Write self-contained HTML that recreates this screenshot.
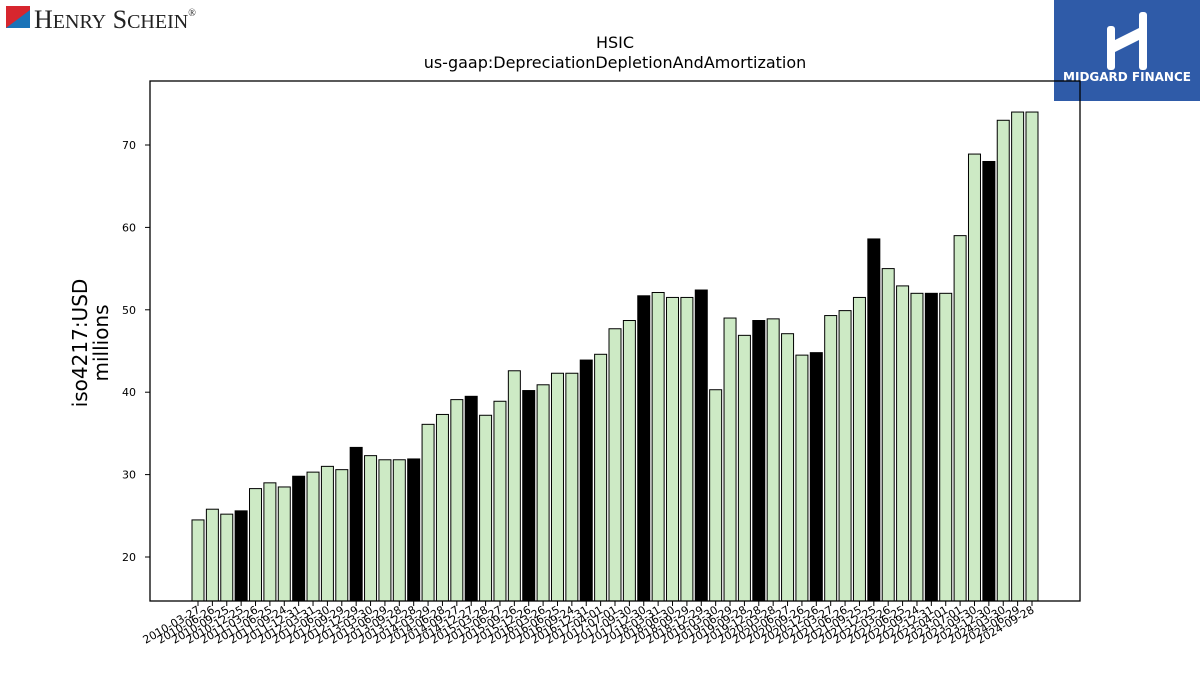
<!DOCTYPE html>
<html><head><meta charset="utf-8"><style>
body{margin:0;background:#fff;width:1200px;height:675px;overflow:hidden;font-family:"Liberation Sans","DejaVu Sans",sans-serif}
</style></head><body>
<svg id="chart" width="1200" height="675" xmlns="http://www.w3.org/2000/svg" font-family="DejaVu Sans, Liberation Sans, sans-serif">
<g>
<rect x="6" y="6" width="24" height="22" fill="#d7262e"/>
<polygon points="6,28 30,10 30,28" fill="#1a73b8"/>
<text x="34" y="28" font-family="Liberation Serif, serif" font-size="26" fill="#222">H<tspan font-size="20">ENRY</tspan> S<tspan font-size="20">CHEIN</tspan><tspan font-size="10" dy="-12">®</tspan></text>
</g>
<g>
<rect x="1054" y="0" width="146" height="101" fill="#2f5ba8"/>
<rect x="1107" y="26" width="8" height="44" fill="#fff" rx="3"/>
<rect x="1139" y="12" width="8" height="58" fill="#fff" rx="3"/>
<polygon points="1115,40 1139,28 1139,40 1115,52" fill="#fff"/>
<text x="1127" y="81" text-anchor="middle" font-size="12" font-weight="bold" fill="#fff">MIDGARD FINANCE</text>
</g>
<text x="615" y="48" text-anchor="middle" font-size="16">HSIC</text>
<text x="615" y="68" text-anchor="middle" font-size="16">us-gaap:DepreciationDepletionAndAmortization</text>
<text transform="translate(87,343) rotate(-90)" text-anchor="middle" font-size="20">iso4217:USD</text>
<text transform="translate(108,343) rotate(-90)" text-anchor="middle" font-size="20">millions</text>
<g id="bars"></g><g id="yaxis"></g><g id="xaxis"></g>
<rect x="150" y="81" width="930" height="520" fill="none" stroke="#000" stroke-width="1.3"/>
</svg>
<script>
const dates=["2010-03-27","2010-06-26","2010-09-25","2010-12-25","2011-03-26","2011-06-25","2011-09-24","2011-12-31","2012-03-31","2012-06-30","2012-09-29","2012-12-29","2013-03-30","2013-06-29","2013-09-28","2013-12-28","2014-03-29","2014-06-28","2014-09-27","2014-12-27","2015-03-28","2015-06-27","2015-09-26","2015-12-26","2016-03-26","2016-06-25","2016-09-24","2016-12-31","2017-04-01","2017-07-01","2017-09-30","2017-12-30","2018-03-31","2018-06-30","2018-09-29","2018-12-29","2019-03-30","2019-06-29","2019-09-28","2019-12-28","2020-03-28","2020-06-27","2020-09-26","2020-12-26","2021-03-27","2021-06-26","2021-09-25","2021-12-25","2022-03-26","2022-06-25","2022-09-24","2022-12-31","2023-04-01","2023-07-01","2023-09-30","2023-12-30","2024-03-30","2024-06-29","2024-09-28"];
const values=[24.5,25.8,25.2,25.6,28.3,29.0,28.5,29.8,30.3,31.0,30.6,33.3,32.3,31.8,31.8,31.9,36.1,37.3,39.1,39.5,37.2,38.9,42.6,40.2,40.9,42.3,42.3,43.9,44.6,47.7,48.7,51.7,52.1,51.5,51.5,52.4,40.3,49.0,46.9,48.7,48.9,47.1,44.5,44.8,49.3,49.9,51.5,58.6,55.0,52.9,52.0,52.0,52.0,59.0,68.9,68.0,73.0,74.0,74.0];
const yTicks=[20,30,40,50,60,70];
const NS="http://www.w3.org/2000/svg";
const y=v=>557-(v-20)*8.24;
const x=i=>198+i*(1032-198)/(dates.length-1);
const bw=12;
const bars=document.getElementById('bars'),xa=document.getElementById('xaxis'),ya=document.getElementById('yaxis');
function mk(t,a,p){const e=document.createElementNS(NS,t);for(const k in a)e.setAttribute(k,a[k]);p.appendChild(e);return e;}
values.forEach((v,i)=>{
 const r=mk('rect',{x:x(i)-bw/2,y:y(v),width:bw,height:601-y(v),fill:(i%4==3)?'#000':'#cdeac5',stroke:'#000','stroke-width':1},bars);
 
 
});
dates.forEach((d,i)=>{
 const t=mk('line',{x1:x(i),x2:x(i),y1:601,y2:606,stroke:'#000'},xa);
 
 
 const l=mk('text',{transform:`translate(${x(i)+3},612) rotate(-30)`,'text-anchor':'end','font-size':11},xa);
 l.textContent=d;
 
 
});
yTicks.forEach(v=>{
 const t=mk('line',{x1:145,x2:150,y1:y(v),y2:y(v),stroke:'#000'},ya);
 
 
 const l=mk('text',{x:136,y:y(v)+4,'text-anchor':'end','font-size':11},ya);
 l.textContent=v;
 
 
});
</script>
</body></html>
